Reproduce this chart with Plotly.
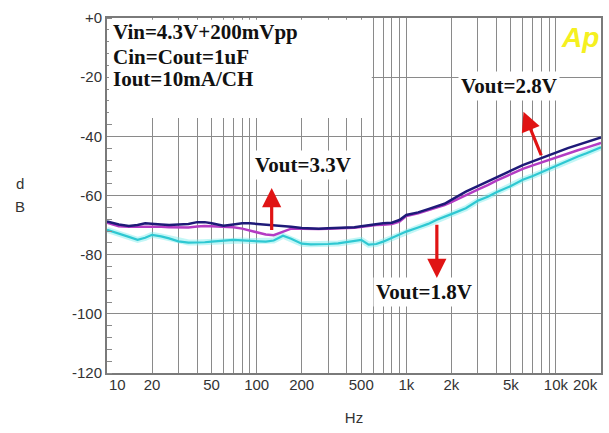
import numpy as np
import plotly.graph_objects as go

# ---------------- data ----------------
freq = [10, 12, 14, 16, 18, 20, 23, 26, 30, 35, 40, 45, 50, 60, 70, 80, 90, 100,
        115, 130, 150, 170, 200, 230, 260, 300, 350, 400, 450, 500, 560, 630, 700,
        800, 900, 1000, 1200, 1400, 1600, 1800, 2000, 2500, 3000, 3500, 4000, 5000,
        6000, 7000, 8000, 10000, 12000, 14000, 16000, 18000, 20000]

vout_33 = [-68.8, -69.8, -70.3, -70.0, -69.4, -69.5, -69.8, -70.0, -69.9, -69.6, -69.0,
           -69.0, -69.4, -70.2, -69.8, -69.4, -69.4, -69.6, -69.7, -69.9, -70.3, -70.6,
           -71.0, -71.2, -71.2, -71.1, -71.0, -70.9, -70.7, -70.4, -70.0, -69.6, -69.4,
           -69.2, -68.3, -66.6, -65.7, -64.6, -63.7, -62.8, -61.5, -58.7, -56.8, -55.3,
           -53.8, -51.6, -49.7, -48.5, -47.4, -45.5, -44.0, -42.9, -42.1, -41.2, -40.4]

vout_28 = [-69.2, -70.4, -70.6, -70.6, -70.4, -70.5, -70.6, -70.7, -70.8, -70.8, -70.5,
           -70.3, -70.4, -70.6, -70.7, -71.2, -71.8, -72.5, -73.2, -73.4, -72.3, -71.2,
           -71.2, -71.3, -71.3, -71.2, -71.2, -71.0, -70.9, -70.6, -70.3, -70.0, -69.9,
           -69.6, -68.8, -66.9, -66.0, -65.0, -64.1, -63.2, -62.2, -59.8, -58.0, -56.5,
           -55.0, -52.8, -51.0, -49.8, -48.8, -47.0, -45.7, -44.7, -43.8, -43.0, -42.2]

vout_18 = [-71.6, -72.8, -74.0, -75.0, -74.3, -73.3, -73.8, -74.5, -75.5, -75.9, -75.9,
           -75.8, -75.6, -75.4, -75.0, -75.2, -75.4, -75.4, -75.6, -75.2, -73.6, -74.6,
           -76.3, -76.5, -76.5, -76.4, -76.2, -75.8, -75.3, -75.0, -76.6, -76.4, -75.6,
           -74.3, -73.3, -72.2, -70.8, -69.6, -68.2, -67.3, -66.3, -64.3, -61.8, -60.4,
           -58.9, -56.8, -54.7, -53.4, -52.1, -50.0, -48.3, -46.8, -45.7, -44.6, -43.7]

x_grid_vals = [20, 30, 40, 50, 60, 70, 80, 90, 100, 200, 300, 400, 500, 600, 700, 800,
               900, 1000, 2000, 3000, 4000, 5000, 6000, 7000, 8000, 9000, 10000]
x_grid_text = ["20", "", "", "50", "", "", "", "", "100", "200", "", "", "500", "", "",
               "", "", "1k", "2k", "", "", "5k", "", "", "", "", "10k"]
y_tick_vals = [0, -20, -40, -60, -80, -100, -120]
y_tick_text = ["+0", "-20", "-40", "-60", "-80", "-100", "-120"]

info_lines = ["Vin=4.3V+200mVpp", "Cin=Cout=1uF", "Iout=10mA/CH"]

# ---------------- figure ----------------
tick_font = dict(family="Liberation Sans, Arial, sans-serif", size=15, color="#333333")
label_font = dict(family="Liberation Serif, Times New Roman, serif", size=21, color="#111111")
GRID = "#8a8a8a"

fig = go.Figure()
fig.add_trace(go.Scatter(x=freq, y=vout_18, mode="lines",
                         line=dict(color="rgba(120,235,235,0.45)", width=6),
                         hoverinfo="skip", showlegend=False))
fig.add_trace(go.Scatter(x=freq, y=vout_18, mode="lines", name="Vout=1.8V",
                         line=dict(color="#2ec8d2", width=2.2)))
fig.add_trace(go.Scatter(x=freq, y=vout_28, mode="lines", name="Vout=2.8V",
                         line=dict(color="#b43cc4", width=2.5)))
fig.add_trace(go.Scatter(x=freq, y=vout_33, mode="lines", name="Vout=3.3V",
                         line=dict(color="#1e1a78", width=2.5)))

fig.update_xaxes(type="log", range=[1, np.log10(20000)],
                 tickmode="array", tickvals=x_grid_vals, ticktext=x_grid_text,
                 ticks="", showgrid=True, gridcolor=GRID, gridwidth=1,
                 showline=True, linecolor="#7a7a7a", linewidth=2, mirror=True,
                 tickfont=tick_font, zeroline=False, automargin=False,
                 ticklabelstandoff=-3,
                 title=dict(text="Hz", font=tick_font, standoff=20))
fig.update_yaxes(range=[-120, 0], tickmode="array", tickvals=y_tick_vals,
                 ticktext=y_tick_text, ticks="", showgrid=True, gridcolor=GRID,
                 gridwidth=1, showline=True, linecolor="#7a7a7a", linewidth=2,
                 mirror=True, tickfont=tick_font, zeroline=False, automargin=False,
                 minor=dict(tickmode="linear", tick0=0, dtick=4, ticks="inside",
                            ticklen=5, tickcolor="#8a8a8a", showgrid=False))

annotations = []
# edge x labels
annotations.append(dict(text="10", xref="paper", yref="paper", x=0.022, y=0,
                        xanchor="center", yanchor="top", yshift=-1,
                        showarrow=False, font=tick_font))
annotations.append(dict(text="20k", xref="paper", yref="paper", x=0.968, y=0,
                        xanchor="center", yanchor="top", yshift=-1,
                        showarrow=False, font=tick_font))
# y axis label
annotations.append(dict(text="d", xref="paper", yref="paper", x=-0.176, y=0.535,
                        xanchor="center", yanchor="middle", showarrow=False,
                        font=tick_font))
annotations.append(dict(text="B", xref="paper", yref="paper", x=-0.176, y=0.468,
                        xanchor="center", yanchor="middle", showarrow=False,
                        font=tick_font))
# info text
for txt, yy in zip(info_lines, [0.9606, 0.890, 0.828]):
    annotations.append(dict(text="<b>" + txt + "</b>", xref="paper", yref="paper",
                            x=0.008, y=yy, xanchor="left", yanchor="middle",
                            showarrow=False, font=label_font))
# series labels with white backing
for txt, f, db in [("Vout=3.3V", 202.8, -49.7), ("Vout=2.8V", 4830, -23.1),
                   ("Vout=1.8V", 1315, -92.7)]:
    annotations.append(dict(text="<b>" + txt + "</b>", x=np.log10(f), y=db,
                            xref="x", yref="y", showarrow=False, font=label_font,
                            bgcolor="white", borderpad=2))
# red arrows
for (fh, dbh, ft, dbt) in [(126, -57.5, 126, -72.2), (6067, -31.7, 8050, -46.9),
                           (1600, -87.9, 1600, -69.4)]:
    annotations.append(dict(text="", x=np.log10(fh), y=dbh, ax=np.log10(ft), ay=dbt,
                            xref="x", yref="y", axref="x", ayref="y",
                            showarrow=True, arrowhead=2, arrowsize=1.2,
                            arrowwidth=3.2, arrowcolor="#e01414", standoff=0))
# Ap logo
annotations.append(dict(text="<b><i>Ap</i></b>", xref="paper", yref="paper",
                        x=0.957, y=0.944, xanchor="center", yanchor="middle",
                        showarrow=False,
                        font=dict(family="Liberation Sans, Arial, sans-serif",
                                  size=28, color="#f5f020")))

fig.update_layout(
    width=609, height=433,
    margin=dict(l=107, r=8, t=18, b=60, autoexpand=False),
    paper_bgcolor="white", plot_bgcolor="white",
    showlegend=False,
    annotations=annotations,
    shapes=[dict(type="rect", xref="paper", yref="paper", x0=0.004, x1=0.536,
                 y0=0.718, y1=0.995, fillcolor="white", line=dict(width=0),
                 layer="above")],
)

fig.write_html("out.html",
               config={"displayModeBar": False},
               post_script="document.body.style.margin='0';"
                           "document.body.style.overflow='hidden';")
